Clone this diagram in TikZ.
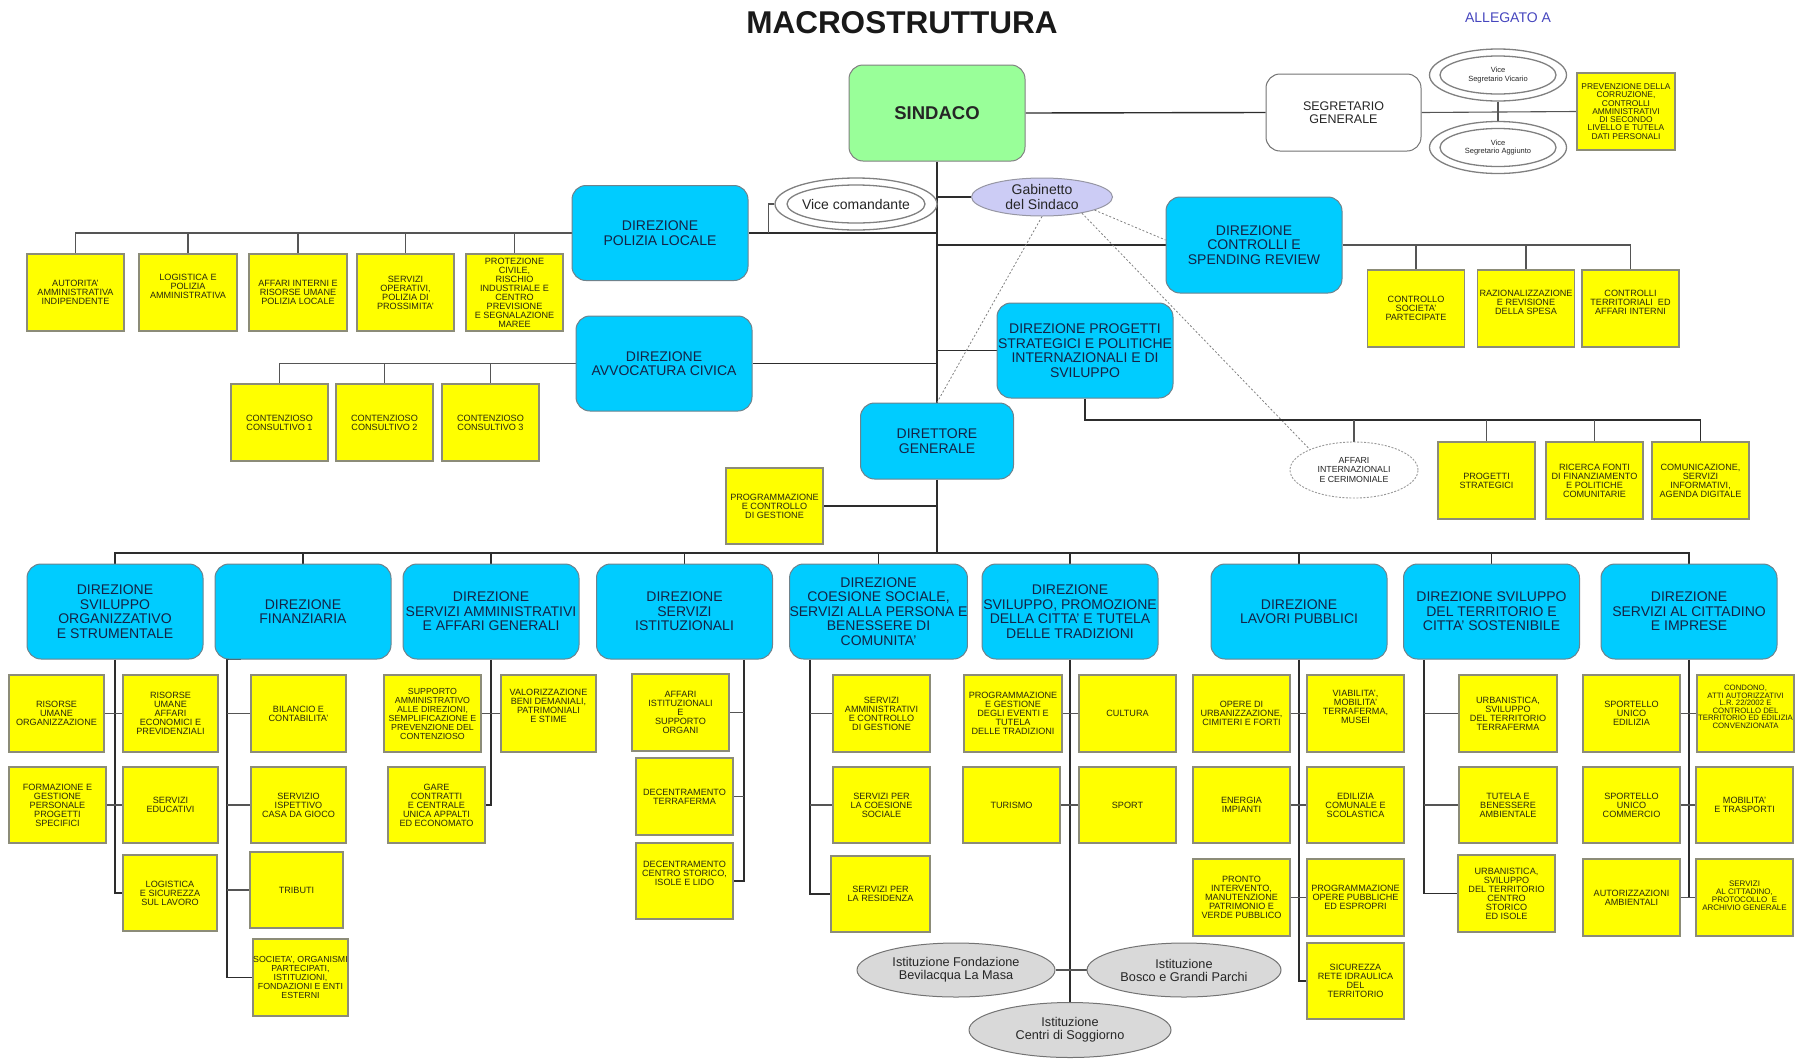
\documentclass[tikz,border=0pt]{standalone}
\usepackage{fontspec}
\setmainfont{Liberation Sans}
\usetikzlibrary{shapes.geometric,calc}
\definecolor{yfill}{RGB}{255,255,0}
\definecolor{yedge}{RGB}{140,140,120}
\definecolor{ytext}{RGB}{40,40,15}
\definecolor{bfill}{RGB}{0,204,255}
\definecolor{bedge}{RGB}{110,130,140}
\definecolor{btext}{RGB}{20,35,70}
\definecolor{sgreen}{RGB}{153,255,153}
\definecolor{gabfill}{RGB}{204,204,245}
\definecolor{istfill}{RGB}{217,217,217}
\definecolor{allcol}{RGB}{70,70,190}
\definecolor{lnmain}{RGB}{45,45,45}
\definecolor{lnchild}{RGB}{85,85,85}
\pgfdeclarelayer{bg}
\pgfsetlayers{bg,main}
\begin{document}
\begin{tikzpicture}[x=1pt,y=-1pt,
 yelbox/.style={draw=yedge, fill=yfill, line width=1.1pt, minimum width=97pt, minimum height=77pt, inner sep=0pt, align=center, text=ytext, font=\fontsize{9.1}{9}\selectfont},
 bluebox/.style={draw=bedge, fill=bfill, line width=1pt, rounded corners=14pt, minimum width=176pt, minimum height=95pt, inner sep=0pt, align=center, text=btext, font=\fontsize{14}{14.5}\selectfont},
 mainln/.style={draw=lnmain, line width=1.4pt},
 childln/.style={draw=lnchild, line width=1.1pt},
 dashln/.style={draw=gray, line width=0.8pt, dash pattern=on 2pt off 2pt},
 ellout/.style={ellipse, draw=gray, line width=1.3pt, fill=white, inner sep=0pt},
 ellin/.style={ellipse, draw=gray, line width=1.3pt, inner sep=0pt},
 istell/.style={ellipse, draw=gray!90!black, fill=istfill, line width=1pt, inner sep=0pt},
 etext/.style={align=center, inner sep=0pt, text=black!85},
]
\useasboundingbox (0,0) rectangle (1795,1058);

% ---------- title ----------
\node[font=\bfseries\fontsize{31.5}{32}\selectfont, text=black!90] (title) at (902,23) {MACROSTRUTTURA};
\node[font=\fontsize{14}{14}\selectfont, text=allcol] (alleg) at (1508,18) {ALLEGATO A};

% ---------- top ----------
\node[draw=gray, fill=sgreen, line width=1pt, rounded corners=14pt, minimum width=176pt, minimum height=96pt, font=\bfseries\fontsize{18.5}{19}\selectfont, text=black!85] (sin) at (937,113) {SINDACO};
\node[draw=gray!90!black, fill=white, line width=1pt, rounded corners=14pt, minimum width=155pt, minimum height=77pt, align=center, font=\fontsize{12.5}{12.5}\selectfont, text=black!85] (seg) at (1343.5,112.5) {SEGRETARIO\\GENERALE};

\node[ellout, minimum width=137pt, minimum height=52pt] (vs1) at (1498,75) {};
\node[ellin, minimum width=116pt, minimum height=38pt] (vs1i) at (1498,75) {};
\node[etext, font=\fontsize{7.5}{8.5}\selectfont] (vs1t) at (1498,75) {Vice\\Segretario Vicario};
\node[ellout, minimum width=137pt, minimum height=52pt] (vs2) at (1498,147.5) {};
\node[ellin, minimum width=116pt, minimum height=38pt] (vs2i) at (1498,147.5) {};
\node[etext, font=\fontsize{7.5}{8.5}\selectfont] (vs2t) at (1498,147.5) {Vice\\Segretario Aggiunto};

\node[yelbox, minimum width=98pt, font=\fontsize{8.4}{8.3}\selectfont] (prev) at (1626,111.5) {PREVENZIONE DELLA\\CORRUZIONE,\\CONTROLLI\\AMMINISTRATIVI\\DI SECONDO\\LIVELLO E TUTELA\\DATI PERSONALI};

% ---------- polizia locale ----------
\node[bluebox] (pol) at (660,233) {DIREZIONE\\POLIZIA LOCALE};
\node[ellout, minimum width=162pt, minimum height=52pt] (vc) at (856,204) {};
\node[ellin, minimum width=138pt, minimum height=38pt] (vci) at (856,204) {};
\node[etext, font=\fontsize{14}{14}\selectfont] (vct) at (856,204) {Vice comandante};

\node[yelbox] (p1) at (75.5,292.5) {AUTORITA'\\AMMINISTRATIVA\\INDIPENDENTE};
\node[yelbox, minimum width=98pt] (p2) at (188,292.5) {LOGISTICA E\\POLIZIA\\AMMINISTRATIVA\\[4pt]};
\node[yelbox, minimum width=98pt] (p3) at (298,292.5) {AFFARI INTERNI E\\RISORSE UMANE\\POLIZIA LOCALE};
\node[yelbox] (p4) at (405.5,292.5) {SERVIZI\\OPERATIVI,\\POLIZIA DI\\PROSSIMITA'};
\node[yelbox] (p5) at (514.5,292.5) {PROTEZIONE\\CIVILE,\\RISCHIO\\INDUSTRIALE E\\CENTRO\\PREVISIONE\\E SEGNALAZIONE\\MAREE};

% ---------- gabinetto ----------
\node[ellipse, draw=gray!70!gabfill, fill=gabfill, line width=1pt, minimum width=141pt, minimum height=38pt, inner sep=0pt] (gab) at (1042,197) {};
\node[etext, font=\fontsize{14}{14.5}\selectfont] (gabt) at (1042,197) {Gabinetto\\del Sindaco};

% ---------- controlli ----------
\node[bluebox, minimum height=96pt] (ctr) at (1254,245) {DIREZIONE\\CONTROLLI E\\SPENDING REVIEW};
\node[yelbox] (k1) at (1416,308.5) {CONTROLLO\\SOCIETA'\\PARTECIPATE};
\node[yelbox] (k2) at (1526,308.5) {RAZIONALIZZAZIONE\\E REVISIONE\\DELLA SPESA\\[4pt]};
\node[yelbox] (k3) at (1630.5,308.5) {CONTROLLI\\TERRITORIALI\ \ ED\\AFFARI INTERNI\\[4pt]};

% ---------- avvocatura ----------
\node[bluebox] (avv) at (664,363.5) {DIREZIONE\\AVVOCATURA CIVICA};
\node[yelbox] (a1) at (279.5,422.5) {CONTENZIOSO\\CONSULTIVO 1};
\node[yelbox] (a2) at (384.5,422.5) {CONTENZIOSO\\CONSULTIVO 2};
\node[yelbox] (a3) at (490.5,422.5) {CONTENZIOSO\\CONSULTIVO 3};

% ---------- progetti ----------
\node[bluebox] (prog) at (1085,350.5) {DIREZIONE PROGETTI\\STRATEGICI E POLITICHE\\INTERNAZIONALI E DI\\SVILUPPO};
\node[ellipse, draw=gray!80, dash pattern=on 2pt off 1.5pt, line width=0.9pt, fill=white, minimum width=128pt, minimum height=56pt, inner sep=0pt] (aff) at (1354,470) {};
\node[etext, font=\fontsize{8.8}{9.5}\selectfont] (afft) at (1354,470) {AFFARI\\INTERNAZIONALI\\E CERIMONIALE};
\node[yelbox] (q1) at (1486.5,480.5) {PROGETTI\\STRATEGICI};
\node[yelbox] (q2) at (1594.5,480.5) {RICERCA FONTI\\DI FINANZIAMENTO\\E POLITICHE\\COMUNITARIE};
\node[yelbox] (q3) at (1700.5,480.5) {COMUNICAZIONE,\\SERVIZI\\INFORMATIVI,\\AGENDA DIGITALE};

% ---------- direttore ----------
\node[bluebox, minimum width=153pt, minimum height=76pt] (dg) at (937,441) {DIRETTORE\\GENERALE};
\node[yelbox, minimum height=76pt] (pcg) at (774.5,506) {PROGRAMMAZIONE\\E CONTROLLO\\DI GESTIONE};

% ---------- direzioni ----------
\node[bluebox] (d1) at (115,611.5) {DIREZIONE\\SVILUPPO\\ORGANIZZATIVO\\E STRUMENTALE};
\node[bluebox] (d2) at (303,611.5) {DIREZIONE\\FINANZIARIA};
\node[bluebox] (d3) at (491,611.5) {DIREZIONE\\SERVIZI AMMINISTRATIVI\\E AFFARI GENERALI};
\node[bluebox] (d4) at (684.5,611.5) {DIREZIONE\\SERVIZI\\ISTITUZIONALI};
\node[bluebox] (d5) at (878.5,611.5) {DIREZIONE\\COESIONE SOCIALE,\\SERVIZI ALLA PERSONA E\\BENESSERE DI\\COMUNITA'};
\node[bluebox] (d6) at (1070,611.5) {DIREZIONE\\SVILUPPO, PROMOZIONE\\DELLA CITTA' E TUTELA\\DELLE TRADIZIONI};
\node[bluebox] (d7) at (1299,611.5) {DIREZIONE\\LAVORI PUBBLICI};
\node[bluebox] (d8) at (1491.5,611.5) {DIREZIONE SVILUPPO\\DEL TERRITORIO E\\CITTA' SOSTENIBILE};
\node[bluebox] (d9) at (1689,611.5) {DIREZIONE\\SERVIZI AL CITTADINO\\E IMPRESE};

% dir 1
\node[yelbox, minimum width=95pt] (l11) at (56.5,713.5) {RISORSE\\UMANE\\ORGANIZZAZIONE};
\node[yelbox, minimum height=76pt] (l12) at (57.5,805) {FORMAZIONE E\\GESTIONE\\PERSONALE\\PROGETTI\\SPECIFICI};
\node[yelbox, minimum width=95pt] (r11) at (170.5,713.5) {RISORSE\\UMANE\\AFFARI\\ECONOMICI E\\PREVIDENZIALI};
\node[yelbox, minimum width=95pt, minimum height=76pt] (r12) at (170.5,805) {SERVIZI\\EDUCATIVI};
\node[yelbox, minimum width=94pt, minimum height=76pt] (r13) at (170,893) {LOGISTICA\\E SICUREZZA\\SUL LAVORO};
% dir 2
\node[yelbox, minimum width=95pt] (c21) at (298.5,713.5) {BILANCIO E\\CONTABILITA'};
\node[yelbox, minimum width=95pt, minimum height=76pt] (c22) at (298.5,805) {SERVIZIO\\ISPETTIVO\\CASA DA GIOCO};
\node[yelbox, minimum width=93pt, minimum height=76pt] (c23) at (296.5,890) {TRIBUTI};
\node[yelbox, minimum width=95pt, font=\fontsize{8.8}{9}\selectfont] (c24) at (300.5,977.5) {SOCIETA', ORGANISMI\\PARTECIPATI,\\ISTITUZIONI,\\FONDAZIONI E ENTI\\ESTERNI};
% dir 3
\node[yelbox, font=\fontsize{8.8}{9}\selectfont] (g31) at (432.5,713.5) {SUPPORTO\\AMMINISTRATIVO\\ALLE DIREZIONI,\\SEMPLIFICAZIONE E\\PREVENZIONE DEL\\CONTENZIOSO};
\node[yelbox, minimum height=76pt] (g32) at (436.5,805) {GARE\\CONTRATTI\\E CENTRALE\\UNICA APPALTI\\ED ECONOMATO};
\node[yelbox, minimum width=95pt] (g33) at (548.5,713.5) {VALORIZZAZIONE\\BENI DEMANIALI,\\PATRIMONIALI\\E STIME\\[6pt]};
% dir 4
\node[yelbox] (c41) at (680.5,712.5) {AFFARI\\ISTITUZIONALI\\E\\SUPPORTO\\ORGANI};
\node[yelbox] (c42) at (684.5,796.5) {DECENTRAMENTO\\TERRAFERMA};
\node[yelbox, minimum height=76pt] (c43) at (684.5,881) {DECENTRAMENTO\\CENTRO STORICO,\\ISOLE E LIDO\\[6pt]};
% dir 5
\node[yelbox] (c51) at (881.5,713.5) {SERVIZI\\AMMINISTRATIVI\\E CONTROLLO\\DI GESTIONE};
\node[yelbox, minimum height=76pt] (c52) at (881.5,805) {SERVIZI PER\\LA COESIONE\\SOCIALE};
\node[yelbox, minimum width=99pt, minimum height=76pt] (c53) at (880.5,894) {SERVIZI PER\\LA RESIDENZA};
% dir 6
\node[yelbox, minimum width=98pt] (c61) at (1013,713.5) {PROGRAMMAZIONE\\E GESTIONE\\DEGLI EVENTI E\\TUTELA\\DELLE TRADIZIONI};
\node[yelbox, minimum height=76pt] (c62) at (1011.5,805) {TURISMO};
\node[yelbox] (c63) at (1127.5,713.5) {CULTURA};
\node[yelbox, minimum height=76pt] (c64) at (1127.5,805) {SPORT};
\node[istell, minimum width=198pt, minimum height=54pt] (fbm) at (956,970) {};
\node[etext, font=\fontsize{12.7}{13}\selectfont] (fbmt) at (956,970) {Istituzione Fondazione\\Bevilacqua La Masa};
\node[istell, minimum width=194pt, minimum height=54pt] (bgp) at (1184,970) {};
\node[etext, font=\fontsize{12.7}{13}\selectfont] (bgpt) at (1184,970) {Istituzione\\Bosco e Grandi Parchi};
\node[istell, minimum width=202pt, minimum height=55pt] (cs) at (1070,1030) {};
\node[etext, font=\fontsize{12.7}{13}\selectfont] (cst) at (1070,1030) {Istituzione\\Centri di Soggiorno};
% dir 7
\node[yelbox] (c71) at (1241.5,713.5) {OPERE DI\\URBANIZZAZIONE,\\CIMITERI E FORTI};
\node[yelbox, minimum height=76pt] (c72) at (1241.5,805) {ENERGIA\\IMPIANTI};
\node[yelbox] (c73) at (1241.5,897.5) {PRONTO\\INTERVENTO,\\MANUTENZIONE\\PATRIMONIO E\\VERDE PUBBLICO};
\node[yelbox] (c74) at (1355.5,713.5) {VIABILITA',\\MOBILITA'\\TERRAFERMA,\\MUSEI\\[4pt]};
\node[yelbox, minimum height=76pt] (c75) at (1355.5,805) {EDILIZIA\\COMUNALE E\\SCOLASTICA};
\node[yelbox] (c76) at (1355.5,897.5) {PROGRAMMAZIONE\\OPERE PUBBLICHE\\ED ESPROPRI};
\node[yelbox, minimum height=76pt] (c77) at (1355.5,981) {SICUREZZA\\RETE IDRAULICA\\DEL\\TERRITORIO};
% dir 8
\node[yelbox, minimum width=98pt] (c81) at (1508,713.5) {URBANISTICA,\\SVILUPPO\\DEL TERRITORIO\\TERRAFERMA};
\node[yelbox, minimum width=98pt, minimum height=76pt] (c82) at (1508,805) {TUTELA E\\BENESSERE\\AMBIENTALE};
\node[yelbox] (c83) at (1506.5,893.5) {URBANISTICA,\\SVILUPPO\\DEL TERRITORIO\\CENTRO\\STORICO\\ED ISOLE};
% dir 9
\node[yelbox] (c91) at (1631.5,713.5) {SPORTELLO\\UNICO\\EDILIZIA};
\node[yelbox, minimum height=76pt] (c92) at (1631.5,805) {SPORTELLO\\UNICO\\COMMERCIO};
\node[yelbox] (c93) at (1631.5,897.5) {AUTORIZZAZIONI\\AMBIENTALI};
\node[yelbox, font=\fontsize{7.8}{7.6}\selectfont] (c94) at (1745.5,713.5) {CONDONO,\\ATTI AUTORIZZATIVI\\L.R. 22/2002 E\\CONTROLLO DEL\\TERRITORIO ED EDILIZIA\\CONVENZIONATA\\[6pt]};
\node[yelbox, minimum height=76pt] (c95) at (1744.5,805) {MOBILITA'\\E TRASPORTI};
\node[yelbox, font=\fontsize{8}{7.8}\selectfont] (c96) at (1744.5,897.5) {SERVIZI\\AL CITTADINO,\\PROTOCOLLO\ \ E\\ARCHIVIO GENERALE\\[-4pt]};

% ================= connectors =================
\begin{pgfonlayer}{bg}
\coordinate (bus) at (937,553);
\coordinate (pb) at (1085,420);
\coordinate (v2) at (227,977.5);
\coordinate (v2top) at ([xshift=-62pt]d2.south);
\coordinate (v4) at ([xshift=59.5pt]d4.south);
\coordinate (v5) at ([xshift=-68.5pt]d5.south);
\coordinate (v8) at ([xshift=-67.5pt]d8.south);
\coordinate (vcj) at ([xshift=20pt]pol.east);
\coordinate (ctrj) at ([yshift=5pt]ctr.west);
% main spine
\draw[mainln] (sin.south) -- (dg.north);
\draw[mainln] (dg.south) -- (bus);
\draw[mainln] (sin.east) -- (seg.west);
\draw[childln] (seg.east) -- (prev.west);
\draw[childln] (vs1.south) -- (vs2.north);
\draw[mainln] (pol.east) -- (pol.east -| sin.south);
\draw[childln] (vc.west) -| (vcj);
\draw[mainln] (gab.west) -- (gab.west -| sin.south);
\draw[mainln] (ctr.west) -- (ctr.west -| sin.south);
\draw[mainln] (avv.east) -- (avv.east -| sin.south);
\draw[mainln] (prog.west) -- (prog.west -| sin.south);
\draw[mainln] (pcg.east) -- (pcg.east -| dg.south);
% dashed relations
\draw[dashln] (gab.south) -- (dg.north);
\draw[dashln] (gab.-14) -- (ctrj);
\draw[dashln] (gab.-22) -- (aff.155);
% polizia children
\draw[childln] (pol.west) -- (p1.north |- pol.west) -- (p1.north);
\foreach \k in {2,...,5} \draw[childln] (p\k.north) -- (p\k.north |- pol.west);
% avvocatura children
\draw[childln] (avv.west) -- (a1.north |- avv.west) -- (a1.north);
\foreach \k in {2,3} \draw[childln] (a\k.north) -- (a\k.north |- avv.west);
% controlli children
\draw[childln] (ctr.east) -- (k3.north |- ctr.east) -- (k3.north);
\foreach \k in {1,2} \draw[childln] (k\k.north) -- (k\k.north |- ctr.east);
% progetti children
\draw[mainln] (prog.south) -- (pb) -- (pb -| q3.north) -- (q3.north);
\draw[childln] (aff.north) -- (aff.north |- pb);
\foreach \k in {1,2} \draw[childln] (q\k.north) -- (q\k.north |- pb);
% bus to direzioni
\draw[mainln] (d1.north) -- (d1.north |- bus) -- (d9.north |- bus) -- (d9.north);
\foreach \k in {2,...,8} \draw[mainln] (d\k.north) -- (d\k.north |- bus);
% dir 1
\draw[mainln] (d1.south) -- (d1.south |- r13.west) -- (r13.west);
\draw[childln] (l11.east) -- (r11.west);
\draw[childln] (l12.east) -- (r12.west);
% dir 2
\draw[mainln] (v2top) -| (v2) -- (c24.west);
\draw[childln] (c21.west) -- (c21.west -| v2);
\draw[childln] (c22.west) -- (c22.west -| v2);
\draw[childln] (c23.west) -- (c23.west -| v2);
% dir 3
\draw[mainln] (d3.south) -- (d3.south |- g32.east) -- (g32.east);
\draw[childln] (g31.east) -- (g33.west);
% dir 4
\draw[mainln] (v4) -- (v4 |- c43.east) -- (c43.east);
\draw[childln] (c41.east) -- (c41.east -| v4);
\draw[childln] (c42.east) -- (c42.east -| v4);
% dir 5
\draw[mainln] (v5) -- (v5 |- c53.west) -- (c53.west);
\draw[childln] (c51.west) -- (c51.west -| v5);
\draw[childln] (c52.west) -- (c52.west -| v5);
% dir 6
\draw[mainln] (d6.south) -- (cs.north);
\draw[childln] (c61.east) -- (c63.west);
\draw[childln] (c62.east) -- (c64.west);
\draw[childln] (fbm.east) -- (bgp.west);
% dir 7
\draw[mainln] (d7.south) -- (d7.south |- c77.west) -- (c77.west);
\draw[childln] (c71.east) -- (c74.west);
\draw[childln] (c72.east) -- (c75.west);
\draw[childln] (c73.east) -- (c76.west);
% dir 8
\draw[mainln] (v8) -- (v8 |- c83.west) -- (c83.west);
\draw[childln] (c81.west) -- (c81.west -| v8);
\draw[childln] (c82.west) -- (c82.west -| v8);
% dir 9
\draw[mainln] (d9.south) -- (d9.south |- c93.east);
\draw[childln] (c91.east) -- (c94.west);
\draw[childln] (c92.east) -- (c95.west);
\draw[childln] (c93.east) -- (c96.west);
\end{pgfonlayer}
\end{tikzpicture}
\end{document}
